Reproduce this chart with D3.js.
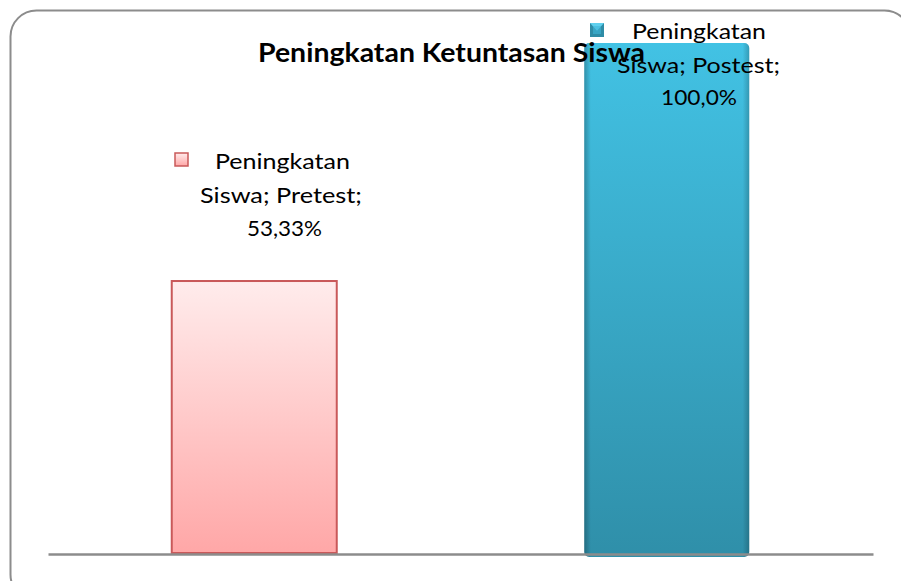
<!DOCTYPE html>
<html><head><meta charset="utf-8">
<script src="https://cdn.jsdelivr.net/npm/d3@7"></script>
<style>body{margin:0;background:#fff}svg{display:block}</style>
</head><body>
<script>
const categories = ["Pretest", "Postest"];
const values = [53.33, 100.0];
const valueLabels = ["53,33%", "100,0%"];
const seriesName = "Peningkatan Siswa";
const title = "Peningkatan Ketuntasan Siswa";

const W = 901, H = 581;
const svg = d3.select("body").append("svg").attr("width", W).attr("height", H);
const defs = svg.append("defs");

const gPink = defs.append("linearGradient").attr("id","gp").attr("x1",0).attr("y1",0).attr("x2",0).attr("y2",1);
gPink.append("stop").attr("offset","0%").attr("stop-color","#ffecec");
gPink.append("stop").attr("offset","100%").attr("stop-color","#ffa7a7");
const gBlue = defs.append("linearGradient").attr("id","gb").attr("x1",0).attr("y1",0).attr("x2",0).attr("y2",1);
gBlue.append("stop").attr("offset","0%").attr("stop-color","#42c2e4");
gBlue.append("stop").attr("offset","100%").attr("stop-color","#2f8fa9");
const gBlueH = defs.append("linearGradient").attr("id","gbh").attr("x1",0).attr("y1",0).attr("x2",1).attr("y2",0);
gBlueH.append("stop").attr("offset","0%").attr("stop-color","#000").attr("stop-opacity",0.25);
gBlueH.append("stop").attr("offset","4%").attr("stop-color","#000").attr("stop-opacity",0);
gBlueH.append("stop").attr("offset","96%").attr("stop-color","#000").attr("stop-opacity",0);
gBlueH.append("stop").attr("offset","100%").attr("stop-color","#000").attr("stop-opacity",0.2);

// chart frame
svg.append("rect").attr("x",10.5).attr("y",10.5).attr("width",900).attr("height",590)
  .attr("rx",26).attr("fill","#fff").attr("stroke","#8c8c8c").attr("stroke-width",2);

const x = d3.scaleBand().domain(categories).range([48, 873]).paddingInner(0.6).paddingOuter(0.3);
const y = d3.scaleLinear().domain([0, 100]).range([553, 43]);

// bars
const pinkX = x(categories[0]), blueX = x(categories[1]);
svg.append("rect").attr("x", pinkX).attr("y", y(values[0])).attr("width", x.bandwidth())
  .attr("height", y(0) - y(values[0])).attr("fill","url(#gp)").attr("stroke","#c9595a").attr("stroke-width",2);

svg.append("rect").attr("x", blueX).attr("y", y(values[1])).attr("width", x.bandwidth())
  .attr("height", y(0) - y(values[1]) + 4).attr("rx",5).attr("fill","url(#gb)");
svg.append("rect").attr("x", blueX).attr("y", y(values[1])).attr("width", x.bandwidth())
  .attr("height", y(0) - y(values[1]) + 4).attr("rx",5).attr("fill","url(#gbh)");

// axis
const axis = svg.append("g").attr("transform", `translate(0,${y(0)+1})`)
  .call(d3.axisBottom(x).tickSize(0).tickFormat(""));
axis.select(".domain").attr("stroke","#8c8c8c").attr("stroke-width",2.5);

// title
svg.append("text").attr("x", 451.5).attr("y", 62).attr("text-anchor","middle")
  .attr("font-family","Lato, sans-serif").attr("font-weight","bold").attr("font-size",26)
  .attr("fill","#000").attr("textLength",387).attr("lengthAdjust","spacingAndGlyphs").text(title);

// data labels
const font = "Lato, sans-serif";
const labelCfg = [
  {cx: [282.5, 281, 284.5], ys: [169, 203, 236], widths: [135, 162, 75], sq: [175, 153, 13]},
  {cx: [699, 698.5, 699], ys: [39, 73, 105], widths: [134, 163, 76], sq: [590, 23, 14]}
];
categories.forEach((c, i) => {
  const cfg = labelCfg[i];
  const parts = seriesName.split(" ");
  const lines = [parts[0], parts[1] + "; " + c + ";", valueLabels[i]];
  lines.forEach((ln, k) => {
    svg.append("text").attr("text-anchor","middle").attr("font-family",font)
      .attr("font-size",22).attr("fill","#000")
      .attr("x", cfg.cx[k]).attr("y", cfg.ys[k])
      .attr("textLength", cfg.widths[k]).attr("lengthAdjust","spacingAndGlyphs").text(ln);
  });
  const sx = cfg.sq[0], sy = cfg.sq[1], s = cfg.sq[2];
  if (i === 0) {
    svg.append("rect").attr("x", sx).attr("y", sy).attr("width", s).attr("height", s)
      .attr("fill","url(#gp)").attr("stroke","#c9595a").attr("stroke-width",1.5);
  } else {
    svg.append("rect").attr("x", sx).attr("y", sy).attr("width", s).attr("height", s).attr("fill","#2e8ca6");
    svg.append("path").attr("d", `M${sx},${sy}L${sx+s},${sy}L${sx+s/2},${sy+s*0.55}Z`).attr("fill","#5fd0ee");
    svg.append("rect").attr("x", sx+3).attr("y", sy+3).attr("width", s-6).attr("height", s-6).attr("fill","#3fb6d8").attr("opacity",0.6);
  }
});
</script>
</body></html>
